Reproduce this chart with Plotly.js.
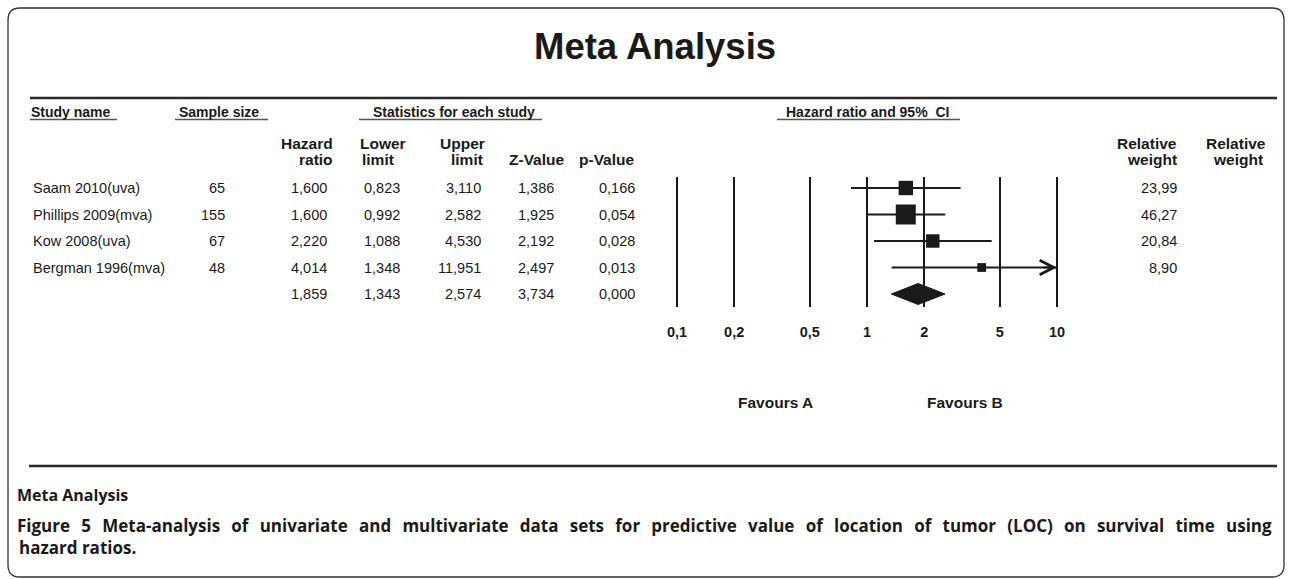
<!DOCTYPE html>
<html><head><meta charset="utf-8">
<script src="https://cdn.plot.ly/plotly-3.0.1.min.js"></script>
<style>html,body{margin:0;padding:0;background:#fff}#chart{width:1290px;height:579px}</style>
</head><body><div id="chart"></div>
<script>
// ---------- data ----------
const studies = ['Saam 2010(uva)', 'Phillips 2009(mva)', 'Kow 2008(uva)', 'Bergman 1996(mva)'];
const sampleSizes = [65, 155, 67, 48];
const hazardRatios = [1.600, 1.600, 2.220, 4.014];
const lowerLimits = [0.823, 0.992, 1.088, 1.348];
const upperLimits = [3.110, 2.582, 4.530, 11.951];
const zValues = [1.386, 1.925, 2.192, 2.497];
const pValues = [0.166, 0.054, 0.028, 0.013];
const relativeWeights = [23.99, 46.27, 20.84, 8.90];
const summaryHR = 1.859, summaryLower = 1.343, summaryUpper = 2.574, summaryZ = 3.734, summaryP = 0.000;
const tickValues = [0.1, 0.2, 0.5, 1, 2, 5, 10];
const tickLabels = ['0,1', '0,2', '0,5', '1', '2', '5', '10'];

// ---------- geometry / style ----------
const W = 1290, H = 579;
const px = x => x / W, py = y => 1 - y / H;
const FONT = 'Liberation Sans, Arial, Helvetica, sans-serif';
const INK = '#1a1a1a';
const XMIN = 0.1, XMAX = 10, X_LEFT = 677, X_RIGHT = 1057, PAD = 0.06;
const PX_PER_DEC = (X_RIGHT - X_LEFT) / (Math.log10(XMAX) - Math.log10(XMIN));
const ROW0 = 188, ROWSTEP = 26.5, GRID_TOP = 177, GRID_BOTTOM = 307;
const nRows = studies.length; // summary row index

const fmt = (v, d) => v.toFixed(d).replace('.', ',');

// ---------- traces ----------
const ciX = [], ciY = [];
studies.forEach((s, i) => {
  ciX.push(lowerLimits[i], Math.min(upperLimits[i], XMAX), null);
  ciY.push(i, i, null);
});
const ciTrace = {type: 'scatter', mode: 'lines', x: ciX, y: ciY,
  line: {color: INK, width: 2}, hoverinfo: 'skip', showlegend: false, cliponaxis: false};
const boxTrace = {type: 'scatter', mode: 'markers', x: hazardRatios, y: studies.map((s, i) => i),
  marker: {symbol: 'square', color: INK, opacity: 1, size: relativeWeights.map(w => 2.94 * Math.sqrt(w)), line: {width: 0}},
  opacity: 1, showlegend: false, cliponaxis: false};
const dh = 10.5 / ROWSTEP;
const diamondTrace = {type: 'scatter', mode: 'lines', fill: 'toself', fillcolor: INK,
  x: [summaryLower, summaryHR, summaryUpper, summaryHR, summaryLower],
  y: [nRows, nRows - dh, nRows, nRows + dh, nRows],
  line: {color: INK, width: 1}, showlegend: false, cliponaxis: false};

// ---------- annotations ----------
const ann = [];
const txt = (text, x, y, opts = {}) => { ann.push(Object.assign({
  text, x: px(x), y: (opts.yref === 'y') ? y : py(y), xref: 'paper', yref: 'paper',
  xanchor: 'left', yanchor: 'middle', showarrow: false,
  font: {family: FONT, size: 14.5, color: INK}
}, opts)); return ann.length - 1; };

// title
txt('<b>Meta Analysis</b>', 655, 46, {xanchor: 'center', font: {family: FONT, size: 36.5, color: INK}});

// group headers
const gh = {font: {family: FONT, size: 14, color: INK}};
txt('<b>Study name</b>', 29, 112, gh);
txt('<b>Sample size</b>', 177, 112, gh);
txt('<b>Statistics for each study</b>', 371, 112, gh);
txt('<b>Hazard ratio and 95%  CI</b>', 784, 112, gh);

// column headers
const hb = (a) => ({xanchor: a, font: {family: FONT, size: 15.5, color: INK}});
txt('<b>Hazard</b>', 335, 143, hb('right'));
txt('<b>ratio</b>', 335, 160, hb('right'));
txt('<b>Lower</b>', 358, 143, hb('left'));
txt('<b>limit</b>', 360, 160, hb('left'));
txt('<b>Upper</b>', 487, 143, hb('right'));
txt('<b>limit</b>', 485, 160, hb('right'));
txt('<b>Z-Value</b>', 567, 160, hb('right'));
txt('<b>p-Value</b>', 637, 160, hb('right'));
txt('<b>Relative</b>', 1179, 143, hb('right'));
txt('<b>weight</b>', 1179, 160, hb('right'));
txt('<b>Relative</b>', 1236, 143, hb('center'));
txt('<b>weight</b>', 1238, 160, hb('center'));

// table rows
const cell = (text, x, row, anchor) => txt(text, x, row, {yref: 'y', xref: 'paper', xanchor: anchor});
studies.forEach((s, i) => {
  cell(s, 31, i, 'left');
  cell(String(sampleSizes[i]), 227, i, 'right');
  cell(fmt(hazardRatios[i], 3), 329, i, 'right');
  cell(fmt(lowerLimits[i], 3), 402, i, 'right');
  cell(fmt(upperLimits[i], 3), 483, i, 'right');
  cell(fmt(zValues[i], 3), 556, i, 'right');
  cell(fmt(pValues[i], 3), 637, i, 'right');
  cell(fmt(relativeWeights[i], 2), 1179, i, 'right');
});
cell(fmt(summaryHR, 3), 329, nRows, 'right');
cell(fmt(summaryLower, 3), 402, nRows, 'right');
cell(fmt(summaryUpper, 3), 483, nRows, 'right');
cell(fmt(summaryZ, 3), 556, nRows, 'right');
cell(fmt(summaryP, 3), 637, nRows, 'right');

// truncated CI arrows
studies.forEach((s, i) => {
  if (upperLimits[i] > XMAX) {
    ann.push({x: Math.log10(XMAX), y: i, xref: 'x', yref: 'y',
      ax: Math.log10(XMAX) - 0.08, ay: i, axref: 'x', ayref: 'y',
      text: '', showarrow: true, arrowhead: 5, arrowsize: 1.4, arrowwidth: 2, arrowcolor: INK});
  }
});

// favours
const fv = {xanchor: 'center', font: {family: FONT, size: 15.5, color: INK}};
txt('<b>Favours A</b>', 775, 402, fv);
txt('<b>Favours B</b>', 965, 402, fv);

// caption
const CAPF = 'Open Sans, Liberation Sans, sans-serif';
txt('<b>Meta Analysis</b>', 15, 495, {font: {family: CAPF, size: 16, color: INK}});
const CAP_LEFT = 17, CAP_RIGHT = 1272;
const capIdx = txt('<b>Figure 5</b> <b>Meta-analysis of univariate and multivariate data sets for predictive value of location of tumor (LOC) on survival time using</b>', CAP_LEFT, 525, {align: 'left', font: {family: CAPF, size: 17, color: INK}});
txt('<b>hazard ratios.</b>', CAP_LEFT, 547, {align: 'left', font: {family: CAPF, size: 17, color: INK}});

// ---------- shapes ----------
const hline = (x0, x1, y, w, c) => ({type: 'line', xref: 'paper', yref: 'paper',
  x0: px(x0), x1: px(x1), y0: py(y), y1: py(y), line: {color: c, width: w}});
const shapes = [
  hline(30, 1277, 98, 2.5, '#2a2a2a'),
  hline(29, 1277, 466, 2.5, '#2a2a2a'),
  hline(30, 117, 119.5, 1.3, '#555'),
  hline(175, 268, 119.5, 1.3, '#555'),
  hline(359, 542, 119.5, 1.3, '#555'),
  hline(777, 960, 119.5, 1.3, '#555'),
];
// rounded outer border (pixel path)
const L = 8, T = 8, R = 1284, B = 577, r = 12;
const P = (x, y) => px(x) + ',' + py(y);
shapes.push({type: 'path', xref: 'paper', yref: 'paper', line: {color: '#333', width: 1.3},
  path: `M ${P(L, B - r)} L ${P(L, T + r)} Q ${P(L, T)} ${P(L + r, T)} L ${P(R - r, T)} Q ${P(R, T)} ${P(R, T + r)} L ${P(R, B - r)} Q ${P(R, B)} ${P(R - r, B)} L ${P(L + r, B)} Q ${P(L, B)} ${P(L, B - r)} Z`});

// ---------- layout ----------
const layout = {
  width: W, height: H, margin: {l: 0, r: 0, t: 0, b: 0},
  paper_bgcolor: '#fff', plot_bgcolor: 'rgba(0,0,0,0)', showlegend: false,
  xaxis: {type: 'log', range: [Math.log10(XMIN) - PAD, Math.log10(XMAX) + PAD],
    domain: [px(X_LEFT - PAD * PX_PER_DEC), px(X_RIGHT + PAD * PX_PER_DEC)],
    tickmode: 'array', tickvals: tickValues, ticktext: tickLabels,
    tickfont: {family: FONT, size: 14.5, color: INK, weight: 'bold'},
    showgrid: true, gridcolor: INK, gridwidth: 2, zeroline: false, showline: false,
    ticks: '', ticklabelstandoff: 14, fixedrange: true},
  yaxis: {range: [(GRID_BOTTOM - ROW0) / ROWSTEP, (GRID_TOP - ROW0) / ROWSTEP],
    domain: [py(GRID_BOTTOM), py(GRID_TOP)], visible: false, fixedrange: true},
  annotations: ann, shapes: shapes
};

Plotly.newPlot('chart', [ciTrace, diamondTrace, boxTrace], layout, {displayModeBar: false, staticPlot: true}).then(gd => {
  // justify the first caption line to the full text width, as in the printed figure
  const t = gd.querySelector(`g.annotation[data-index="${capIdx}"] text.annotation-text`);
  if (t) {
    const gaps = t.textContent.trim().split(/\s+/).length - 1;
    const target = CAP_RIGHT - CAP_LEFT;
    let ws = 0;
    for (let k = 0; k < 3; k++) {
      const w = t.getBBox().width;
      ws += (target - w) / gaps;
      t.style.wordSpacing = Math.max(0, ws) + 'px';
    }
    const dx = CAP_LEFT - t.getBoundingClientRect().left;
    if (Math.abs(dx) > 0.5) t.setAttribute('transform', `translate(${dx},0)`);
  }
});
</script>
</body></html>
